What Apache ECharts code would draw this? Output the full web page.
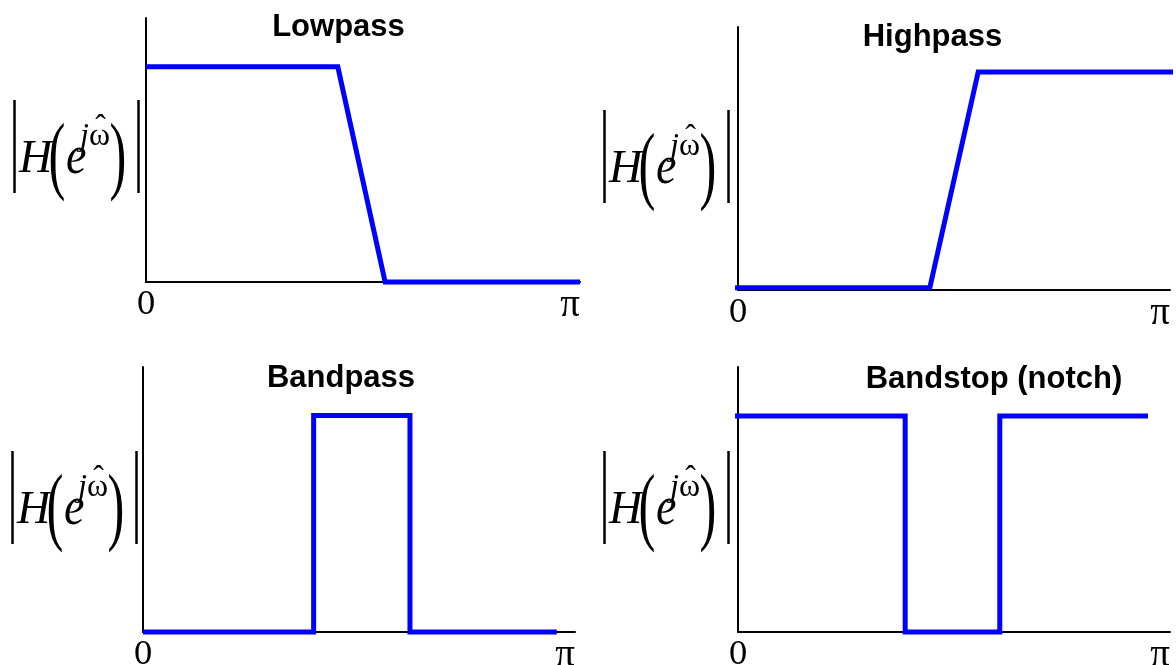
<!DOCTYPE html>
<html>
<head>
<meta charset="utf-8">
<script src="https://cdn.jsdelivr.net/npm/echarts@6/dist/echarts.min.js"></script>
<style>
  html, body { margin: 0; padding: 0; background: #fff; }
  #chart { width: 1176px; height: 665px; }
</style>
</head>
<body>
<div id="chart"></div>
<script>
// Ideal filter magnitude responses, frequency axis in units of pi (0 .. 1)
const titles = ['Lowpass', 'Highpass', 'Bandpass', 'Bandstop (notch)'];
const tickLabels = ['0', 'π'];

const lowpassX  = [0, 0.442, 0.551, 1.0];
const lowpassY  = [1, 1, 0, 0];
const highpassX = [-0.007, 0.444, 0.556, 1.014];
const highpassY = [0.01, 0.01, 1, 1];
const bandpassX = [0, 0.395, 0.395, 0.618, 0.618, 0.958];
const bandpassY = [0, 0, 1, 1, 0, 0];
const bandstopX = [-0.009, 0.387, 0.387, 0.606, 0.606, 0.949];
const bandstopY = [1, 1, 0, 0, 1, 1];

const curves = [
  [lowpassX, lowpassY],
  [highpassX, highpassY],
  [bandpassX, bandpassY],
  [bandstopX, bandstopY]
];

// Panel layout (pixels) and vertical range of each magnitude axis
const panels = [
  { left: 146, top: 18,  width: 434, height: 264, yMax: 1.227, titleX: 338.5, titleY: 27,  labelDx: 0,   labelDy: 0 },
  { left: 738, top: 27,  width: 432, height: 263, yMax: 1.206, titleX: 932.5, titleY: 37,  labelDx: 590, labelDy: 10 },
  { left: 143, top: 367, width: 432, height: 265, yMax: 1.224, titleX: 341,   titleY: 378, labelDx: -2,  labelDy: 351 },
  { left: 738, top: 367, width: 432, height: 265, yMax: 1.227, titleX: 994,   titleY: 379, labelDx: 590, labelDy: 351 }
];

const SERIF = '"Liberation Serif", "Times New Roman", serif';
const SANS = '"Liberation Sans", Arial, sans-serif';

const grids = [], xAxes = [], yAxes = [], series = [], graphics = [];

panels.forEach((p, i) => {
  grids.push({ left: p.left, top: p.top, width: p.width, height: p.height, outerBoundsMode: 'none' });
  xAxes.push({
    type: 'value', gridIndex: i, min: 0, max: 1, interval: 1,
    axisLine: { show: true, onZero: true, lineStyle: { color: '#000', width: 2 } },
    axisTick: { show: false },
    splitLine: { show: false },
    axisLabel: {
      show: true, margin: 8,
      color: '#000',
      alignMinLabel: 'center', alignMaxLabel: 'right',
      formatter: v => (v === 0 ? '{zero|' + tickLabels[0] + '}' : '{pi|' + tickLabels[1] + '}'),
      rich: {
        zero: { fontFamily: '"DejaVu Serif", serif', fontSize: 31, lineHeight: 31, color: '#000' },
        pi:   { fontFamily: SERIF, fontSize: 39, lineHeight: 31, color: '#000' }
      }
    }
  });
  yAxes.push({
    type: 'value', gridIndex: i, min: 0, max: p.yMax,
    axisLine: { show: true, lineStyle: { color: '#000', width: 2 } },
    axisTick: { show: false },
    splitLine: { show: false },
    axisLabel: { show: false }
  });
  const [xs, ys] = curves[i];
  series.push({
    type: 'line', xAxisIndex: i, yAxisIndex: i,
    data: xs.map((x, k) => [x, ys[k]]),
    showSymbol: false, clip: false, z: 5,
    lineStyle: { color: '#0000ff', width: 5, join: 'miter', cap: 'butt' }
  });

  // panel title
  graphics.push({
    type: 'text', x: p.titleX, y: p.titleY,
    style: { text: titles[i], fontFamily: SANS, fontWeight: 'bold', fontSize: 31,
             fill: '#000', align: 'center', verticalAlign: 'middle' }
  });

  // magnitude label |H(e^{jω̂})|
  const dx = p.labelDx, dy = p.labelDy;
  const bar = x => ({
    type: 'line', shape: { x1: x + dx, y1: 100 + dy, x2: x + dx, y2: 193 + dy },
    style: { stroke: '#000', lineWidth: 2.5 }
  });
  const txt = (t, x, y, size, opts) => Object.assign({
    type: 'text', x: x + dx, y: y + dy,
    style: Object.assign({ text: t, fontFamily: SERIF, fontSize: size, fill: '#000',
                           align: 'left', verticalAlign: 'middle' }, (opts && opts.style) || {})
  }, (opts && opts.props) || {});
  graphics.push(bar(14.5));
  graphics.push(bar(138.5));
  graphics.push(txt('H', 19, 159.5, 46, { style: { fontStyle: 'italic' } }));
  graphics.push(txt('(', 57, 160, 46, { style: { align: 'center' }, props: { scaleY: 1.9, scaleX: 1.1 } }));
  graphics.push(txt('e', 66, 158, 46, { style: { fontStyle: 'italic' }, props: { scaleY: 1.2 } }));
  graphics.push(txt('j', 80, 137, 32, { style: { fontStyle: 'italic' } }));
  graphics.push(txt('ω', 89, 137, 32));
  graphics.push(txt('ˆ', 100.5, 128, 32, { style: { align: 'center' } }));
  graphics.push(txt(')', 118, 160, 46, { style: { align: 'center' }, props: { scaleY: 1.9, scaleX: 1.1 } }));
});

const chart = echarts.init(document.getElementById('chart'), null, { renderer: 'canvas' });
chart.setOption({
  animation: false,
  backgroundColor: '#fff',
  grid: grids,
  xAxis: xAxes,
  yAxis: yAxes,
  series: series,
  graphic: graphics
});
</script>
</body>
</html>
